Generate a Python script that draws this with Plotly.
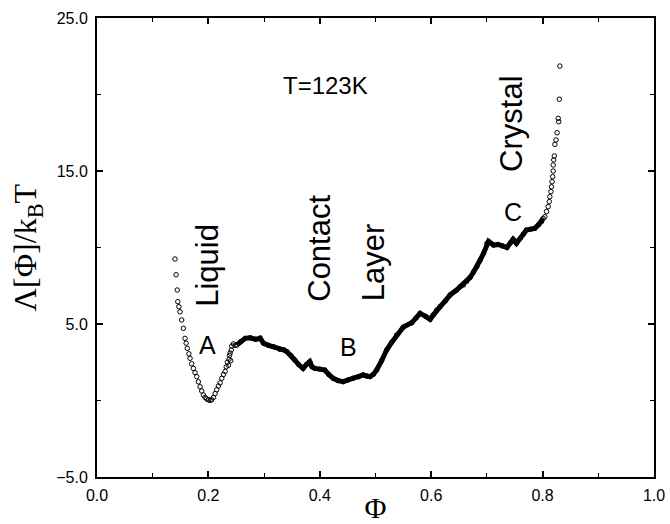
import plotly.graph_objects as go

# Left (liquid side) branch: separate circles
phi_left = [0.140, 0.142, 0.144, 0.145, 0.147, 0.149, 0.152, 0.155, 0.158, 0.160,
            0.162, 0.165, 0.167, 0.170, 0.173, 0.176, 0.179, 0.182, 0.185, 0.188,
            0.191, 0.194, 0.197, 0.200, 0.203, 0.206, 0.209, 0.212, 0.215, 0.218,
            0.221, 0.224, 0.227, 0.230, 0.232, 0.234, 0.236, 0.237, 0.238, 0.239,
            0.240, 0.241, 0.242, 0.245, 0.248]
lam_left = [9.25, 8.22, 7.22, 6.46, 6.13, 5.80, 5.26, 4.72, 4.06, 3.75,
            3.41, 3.05, 2.76, 2.40, 2.10, 1.82, 1.56, 1.22, 0.90, 0.62,
            0.36, 0.20, 0.10, 0.05, 0.00, 0.05, 0.20, 0.45, 0.70, 0.95,
            1.15, 1.45, 1.70, 1.90, 2.20, 2.50, 2.30, 2.70, 2.95, 3.10,
            2.60, 3.30, 3.56, 3.70, 3.60]

# Dense middle part of the curve
phi_mid = [0.251, 0.258, 0.266, 0.275, 0.285, 0.293, 0.299, 0.308, 0.317, 0.328,
           0.336, 0.341, 0.348, 0.355, 0.362, 0.370, 0.376, 0.382, 0.386, 0.391,
           0.400, 0.409, 0.416, 0.424, 0.433, 0.442, 0.451, 0.460, 0.470, 0.478,
           0.484, 0.490, 0.496, 0.502, 0.511, 0.520, 0.529, 0.538, 0.550, 0.565,
           0.573, 0.580, 0.590, 0.598, 0.604, 0.610, 0.616, 0.625, 0.634, 0.645,
           0.652, 0.658, 0.664, 0.670, 0.676, 0.682, 0.688, 0.694, 0.700, 0.703,
           0.712, 0.720, 0.728, 0.736, 0.742, 0.747, 0.753, 0.760, 0.766, 0.771,
           0.779, 0.786, 0.793, 0.798, 0.801]
lam_mid = [3.63, 3.85, 4.06, 4.10, 4.00, 4.08, 3.74, 3.60, 3.52, 3.35,
           3.30, 3.19, 2.95, 2.65, 2.35, 2.10, 2.35, 2.54, 2.20, 2.10,
           2.05, 1.99, 1.70, 1.45, 1.30, 1.23, 1.35, 1.45, 1.55, 1.67,
           1.60, 1.56, 1.70, 1.99, 2.60, 3.30, 3.80, 4.28, 4.80, 5.08,
           5.40, 5.70, 5.50, 5.31, 5.60, 5.92, 6.13, 6.50, 6.90, 7.20,
           7.44, 7.55, 7.80, 8.05, 8.40, 8.74, 9.18, 9.62, 10.27, 10.40,
           10.16, 10.20, 10.10, 10.00, 10.30, 10.54, 10.27, 10.60, 10.90, 11.14,
           11.20, 11.25, 11.50, 11.69, 11.90]

# Right (crystal side) branch: separate circles
phi_right = [0.804, 0.807, 0.810, 0.812, 0.813, 0.815, 0.816, 0.817, 0.818, 0.819,
             0.819, 0.820, 0.821, 0.822, 0.824, 0.826, 0.828, 0.829, 0.830, 0.831]
lam_right = [12.01, 12.35, 12.67, 13.00, 13.32, 13.65, 13.97, 14.30, 14.63, 15.00,
             15.39, 15.72, 15.98, 16.74, 17.03, 17.50, 18.44, 18.22, 19.69, 21.86]

x_ticks = [0.0, 0.2, 0.4, 0.6, 0.8, 1.0]
x_ticktext = ["0.0", "0.2", "0.4", "0.6", "0.8", "1.0"]
y_ticks = [-5, 5, 15, 25]
y_ticktext = ["\u22125.0", "5.0", "15.0", "25.0"]

labels_text = ["Liquid", "Contact", "Layer", "Crystal", "A", "B", "C", "T=123K"]
labels_x = [0.199, 0.400, 0.496, 0.743, 0.199, 0.451, 0.747, 0.411]
labels_y = [8.86, 9.97, 9.05, 18.07, 3.63, 3.50, 12.32, 20.62]
labels_angle = [-90, -90, -90, -90, 0, 0, 0, 0]
labels_size = [31, 31, 31, 31, 25, 25, 25, 24]

marker = dict(symbol="circle-open", size=4.5, color="black", line=dict(width=1, color="black"))

fig = go.Figure()
fig.add_trace(go.Scatter(x=phi_left, y=lam_left, mode="markers", marker=marker,
                         showlegend=False, hoverinfo="skip"))
fig.add_trace(go.Scatter(x=phi_mid, y=lam_mid, mode="lines+markers", marker=marker,
                         line=dict(color="black", width=5), showlegend=False, hoverinfo="skip"))
fig.add_trace(go.Scatter(x=phi_right, y=lam_right, mode="markers", marker=marker,
                         showlegend=False, hoverinfo="skip"))

for t, x, y, a, s in zip(labels_text, labels_x, labels_y, labels_angle, labels_size):
    fig.add_annotation(x=x, y=y, xref="x", yref="y", text=t, textangle=a, showarrow=False,
                       font=dict(family="Liberation Sans, Arial, sans-serif", size=s, color="black"))

axis_common = dict(showgrid=False, zeroline=False, showline=True, linecolor="black", linewidth=2,
                   mirror="ticks", ticks="inside", ticklen=6, tickwidth=1.5, tickcolor="black",
                   automargin=False,
                   tickfont=dict(family="Liberation Sans, Arial, sans-serif", size=16, color="black"))

fig.update_xaxes(range=[0, 1], tickvals=x_ticks, ticktext=x_ticktext, ticklabelstandoff=3,
                 minor=dict(dtick=0.1, ticks="inside", ticklen=4, tickwidth=1.2, tickcolor="black"),
                 title=dict(text="\u03a6", standoff=8,
                            font=dict(family="Liberation Serif, Times New Roman, serif", size=30, color="black")),
                 **axis_common)
fig.update_yaxes(range=[-5, 25], tickvals=y_ticks, ticktext=y_ticktext, ticklabelstandoff=4,
                 minor=dict(dtick=5, ticks="inside", ticklen=4, tickwidth=1.2, tickcolor="black"),
                 title=dict(text="\u039b[\u03a6]/k<sub>B</sub>T", standoff=10,
                            font=dict(family="Liberation Serif, Times New Roman, serif", size=32, color="black")),
                 **axis_common)

fig.update_layout(width=670, height=524, margin=dict(l=97, r=16, t=18, b=47),
                  plot_bgcolor="white", paper_bgcolor="white")

fig.write_html("out.html")
